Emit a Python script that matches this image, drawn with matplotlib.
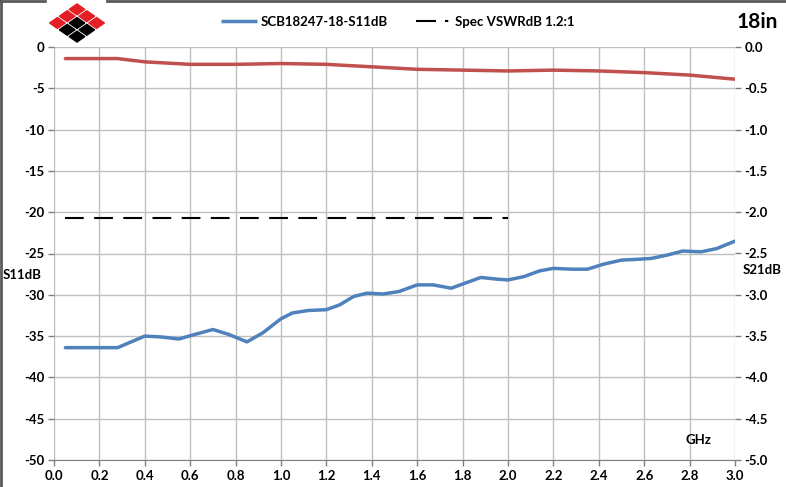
import matplotlib.pyplot as plt
from matplotlib.patches import Polygon
from matplotlib.lines import Line2D

# S11 (left axis, dB)
s11_ghz = [0.05, 0.15, 0.28, 0.34, 0.40, 0.47, 0.55, 0.62, 0.70, 0.77, 0.85, 0.92,
           1.00, 1.05, 1.12, 1.20, 1.26, 1.32, 1.38, 1.45, 1.52, 1.60, 1.67, 1.75,
           1.82, 1.88, 1.95, 2.00, 2.07, 2.14, 2.20, 2.28, 2.35, 2.42, 2.50, 2.57,
           2.63, 2.70, 2.77, 2.85, 2.92, 3.00]
s11_db = [-36.4, -36.4, -36.4, -35.7, -35.0, -35.1, -35.35, -34.8, -34.2, -34.8, -35.7, -34.6,
          -32.9, -32.2, -31.9, -31.8, -31.2, -30.2, -29.8, -29.9, -29.6, -28.8, -28.8, -29.2,
          -28.5, -27.9, -28.1, -28.2, -27.8, -27.1, -26.8, -26.9, -26.9, -26.3, -25.8, -25.7,
          -25.6, -25.2, -24.7, -24.8, -24.4, -23.5]

# S21 (right axis, dB)
s21_ghz = [0.05, 0.28, 0.40, 0.60, 0.80, 1.00, 1.20, 1.40, 1.60, 1.80, 2.00, 2.20,
           2.40, 2.60, 2.80, 3.00]
s21_db = [-0.14, -0.14, -0.18, -0.21, -0.21, -0.20, -0.21, -0.24, -0.27, -0.28, -0.29, -0.28,
          -0.29, -0.31, -0.34, -0.39]

# spec limit
spec_ghz = [0.05, 2.0]
spec_db = [-20.7, -20.7]

blue = '#4F81BD'
red = '#C0504D'
grid_c = '#BFBFBF'

plt.rcParams['font.family'] = ['Lato', 'DejaVu Sans']
plt.rcParams['axes.unicode_minus'] = False

fig = plt.figure(figsize=(7.86, 4.87), dpi=100)
W, H = 786, 487
ax = fig.add_axes([54 / W, 1 - 460 / H, (735 - 54) / W, (460 - 47) / H])
ax2 = ax.twinx()

ax.plot(s11_ghz, s11_db, color=blue, lw=2.5, solid_capstyle='round', zorder=3,
        label='SCB18247-18-S11dB')
ax.plot(spec_ghz, spec_db, color='black', lw=1.5, dashes=(9, 5), zorder=3,
        label='Spec VSWRdB 1.2:1')
ax2.plot(s21_ghz, s21_db, color=red, lw=2.5, solid_capstyle='round')

ax.set_xlim(0, 3.0)
ax.set_ylim(-50, 0)
ax2.set_ylim(-5, 0)
ax.set_xticks([i * 0.2 for i in range(16)])
ax.set_xticklabels([f'{i * 0.2:.1f}' for i in range(16)])
ax.set_yticks(range(-50, 1, 5))
ax2.set_yticks([-5 + 0.5 * i for i in range(11)])
ax2.set_yticklabels([f'{-5 + 0.5 * i:.1f}' for i in range(11)])

ax.grid(True, color=grid_c, lw=1)
for a in (ax, ax2):
    for s in a.spines.values():
        s.set_visible(False)
    a.tick_params(length=4, width=1, color='#808080', labelsize=9.5, pad=3)
    for lab in a.get_xticklabels() + a.get_yticklabels():
        lab.set_fontweight('bold')
ax.spines['bottom'].set_visible(True)
ax.spines['bottom'].set_color('#808080')
ax.spines['bottom'].set_bounds(0, 3.0)

fig.text(22 / W, 1 - 275 / H, 'S11dB', fontsize=9.5, fontweight='bold', ha='center', va='center')
fig.text(762 / W, 1 - 270 / H, 'S21dB', fontsize=9.5, fontweight='bold', ha='center', va='center')
ax.text(0.965, 0.035, 'GHz', transform=ax.transAxes, fontsize=9.5, fontweight='bold',
        ha='right', va='bottom')
fig.text(778 / W, 1 - 22 / H, '18in', fontsize=15, fontweight='bold', ha='right', va='center')

leg = ax.legend(loc='center', bbox_to_anchor=(398 / W, 1 - 22 / H), bbox_transform=fig.transFigure,
                ncol=2, frameon=False, fontsize=9.5, handlelength=2.7, handletextpad=0.3,
                columnspacing=2.1)
for t in leg.get_texts():
    t.set_fontweight('bold')
leg.get_lines()[0].set_solid_capstyle('butt')
leg.get_lines()[1].set_dashes([9.6, 4.3, 1.6, 20])

# logo and frame
lax = fig.add_axes([0, 0, 1, 1], zorder=-1)
lax.set_xlim(0, W)
lax.set_ylim(H, 0)
lax.axis('off')
lax.add_line(Line2D([1, 1], [0, H], color='#595959', lw=2))
lax.add_line(Line2D([0, 45], [1, 1], color='#595959', lw=2))
lax.add_line(Line2D([107, W], [1, 1], color='#595959', lw=2))
cx, cy, dx, dy, r = 77, 23, 9.8, 6.8, 0.8
cells = [(0, -2, '#E31E24'), (-1, -1, '#E31E24'), (1, -1, '#E31E24'),
         (-2, 0, '#E31E24'), (0, 0, 'black'), (2, 0, '#E31E24'),
         (-1, 1, 'black'), (1, 1, 'black'), (0, 2, 'black')]
for i, j, c in cells:
    x0, y0 = cx + i * dx, cy + j * dy
    lax.add_patch(Polygon([(x0, y0 - dy * r), (x0 + dx * r, y0), (x0, y0 + dy * r), (x0 - dx * r, y0)],
                          closed=True, color=c))

fig.savefig('out.png', dpi=100)
